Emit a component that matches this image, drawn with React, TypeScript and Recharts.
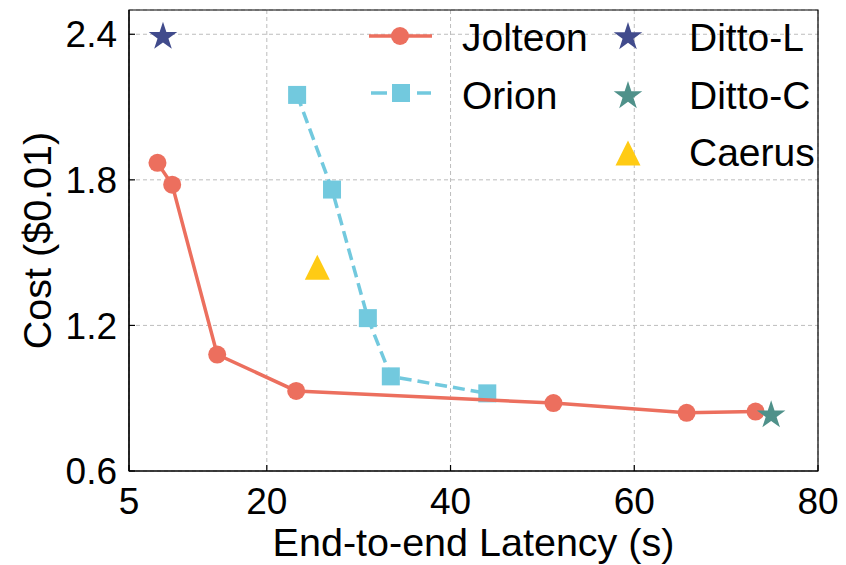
import React from "react";
import {
  ScatterChart,
  Scatter,
  XAxis,
  YAxis,
  CartesianGrid,
  ReferenceArea,
  Legend,
} from "recharts";

// latency (s) / cost ($0.01)
const jolteonLatency = [8.1, 9.7, 14.6, 23.2, 51.2, 65.7, 73.2];
const jolteonCost = [1.87, 1.78, 1.08, 0.93, 0.88, 0.84, 0.845];
const orionLatency = [23.3, 27.1, 31.0, 33.5, 44.0];
const orionCost = [2.15, 1.76, 1.23, 0.99, 0.92];
const dittoLLatency = [8.7];
const dittoLCost = [2.39];
const dittoCLatency = [74.9];
const dittoCCost = [0.83];
const caerusLatency = [25.5];
const caerusCost = [1.44];

const xTicks = [5, 20, 40, 60, 80];
const yTicks = [0.6, 1.2, 1.8, 2.4];

const FONT = '"Liberation Sans", Arial, sans-serif';
const RED = "#EC6F5E";
const BLUE = "#72C9DE";
const NAVY = "#414B8C";
const TEAL = "#4F918A";
const YELLOW = "#FFCB14";

const toPoints = (xs: number[], ys: number[]) =>
  xs.map((x, i) => ({ x, y: ys[i] }));

function starPath(cx: number, cy: number, R: number) {
  const r = R * 0.382;
  const pts: string[] = [];
  for (let i = 0; i < 10; i++) {
    const rad = i % 2 === 0 ? R : r;
    const a = -Math.PI / 2 + (i * Math.PI) / 5;
    pts.push(`${cx + rad * Math.cos(a)},${cy + rad * Math.sin(a)}`);
  }
  return `M${pts.join("L")}Z`;
}

const circleShape = (color: string) => (p: any) =>
  <circle cx={p.cx} cy={p.cy} r={9} fill={color} />;
const squareShape = (color: string) => (p: any) =>
  <rect x={p.cx - 9} y={p.cy - 9} width={18} height={18} fill={color} />;
const starShape = (color: string) => (p: any) =>
  <path d={starPath(p.cx, p.cy, 15)} fill={color} />;
const triangleShape = (color: string) => (p: any) =>
  <path
    d={`M${p.cx},${p.cy - 12.5}L${p.cx + 12.5},${p.cy + 12.5}L${p.cx - 12.5},${p.cy + 12.5}Z`}
    fill={color}
  />;

function LegendBox() {
  const txt = { fontSize: 39, fill: "#000", fontFamily: FONT };
  return (
    <svg width={470} height={180} style={{ overflow: "visible" }}>
      <line x1={9} x2={72} y1={26} y2={26} stroke={RED} strokeWidth={3.5} />
      <circle cx={40} cy={26} r={9} fill={RED} />
      <text x={102} y={40.5} {...txt}>Jolteon</text>

      <line x1={11} x2={27} y1={83} y2={83} stroke={BLUE} strokeWidth={3.5} />
      <line x1={57} x2={71} y1={83} y2={83} stroke={BLUE} strokeWidth={3.5} />
      <rect x={32} y={74} width={18} height={18} fill={BLUE} />
      <text x={102} y={98.5} {...txt}>Orion</text>

      <path d={starPath(268, 27, 15)} fill={NAVY} />
      <text x={329} y={40.5} {...txt}>Ditto-L</text>
      <path d={starPath(268, 86, 15)} fill={TEAL} />
      <text x={329} y={98.5} {...txt}>Ditto-C</text>
      <path d="M268,130.5L280.5,155.5L255.5,155.5Z" fill={YELLOW} />
      <text x={329} y={156} {...txt}>Caerus</text>
    </svg>
  );
}

export default function App() {
  return (
    <div style={{ position: "absolute", left: 0, top: 0 }}>
      <ScatterChart
        width={846}
        height={565}
        margin={{ top: 10, right: 28, bottom: 0, left: 0 }}
        style={{ fontFamily: FONT }}
      >
        <CartesianGrid stroke="#bdbdbd" strokeDasharray="4 3" />
        <XAxis
          type="number"
          dataKey="x"
          domain={[5, 80]}
          ticks={xTicks}
          allowDataOverflow
          height={94}
          tickSize={-6}
          tickMargin={23}
          axisLine={{ stroke: "#000", strokeWidth: 1.2 }}
          tickLine={{ stroke: "#000", strokeWidth: 1.2 }}
          tick={{ fontSize: 37, fill: "#000", fontFamily: FONT }}
          label={{
            value: "End-to-end Latency (s)",
            position: "insideBottom",
            offset: 9,
            fontSize: 39.5,
            fill: "#000",
            fontFamily: FONT,
          }}
        />
        <YAxis
          type="number"
          dataKey="y"
          domain={[0.6, 2.5]}
          ticks={yTicks}
          allowDataOverflow
          width={129}
          tickSize={-6}
          tickMargin={18}
          tickFormatter={(v: number) => v.toFixed(1)}
          axisLine={{ stroke: "#000", strokeWidth: 1.2 }}
          tickLine={{ stroke: "#000", strokeWidth: 1.2 }}
          tick={{ fontSize: 37, fill: "#000", fontFamily: FONT }}
          label={{
            value: "Cost ($0.01)",
            angle: -90,
            position: "insideLeft",
            offset: 37,
            fontSize: 39.5,
            fill: "#000",
            fontFamily: FONT,
            style: { textAnchor: "middle" },
          }}
        />
        <ReferenceArea
          x1={5}
          x2={80}
          y1={0.6}
          y2={2.5}
          fill="none"
          stroke="#000"
          strokeWidth={1.2}
          fillOpacity={0}
        />
        <Legend
          layout="horizontal"
          verticalAlign="middle"
          align="center"
          wrapperStyle={{ left: 360, top: 10, width: 470, height: 180 }}
          content={() => <LegendBox />}
        />
        <Scatter
          name="Orion"
          data={toPoints(orionLatency, orionCost)}
          line={{ stroke: BLUE, strokeWidth: 3.5, strokeDasharray: "12 6" }}
          lineType="joint"
          shape={squareShape(BLUE)}
          isAnimationActive={false}
        />
        <Scatter
          name="Jolteon"
          data={toPoints(jolteonLatency, jolteonCost)}
          line={{ stroke: RED, strokeWidth: 3.5 }}
          lineType="joint"
          shape={circleShape(RED)}
          isAnimationActive={false}
        />
        <Scatter
          name="Ditto-L"
          data={toPoints(dittoLLatency, dittoLCost)}
          shape={starShape(NAVY)}
          isAnimationActive={false}
        />
        <Scatter
          name="Ditto-C"
          data={toPoints(dittoCLatency, dittoCCost)}
          shape={starShape(TEAL)}
          isAnimationActive={false}
        />
        <Scatter
          name="Caerus"
          data={toPoints(caerusLatency, caerusCost)}
          shape={triangleShape(YELLOW)}
          isAnimationActive={false}
        />
      </ScatterChart>
    </div>
  );
}
